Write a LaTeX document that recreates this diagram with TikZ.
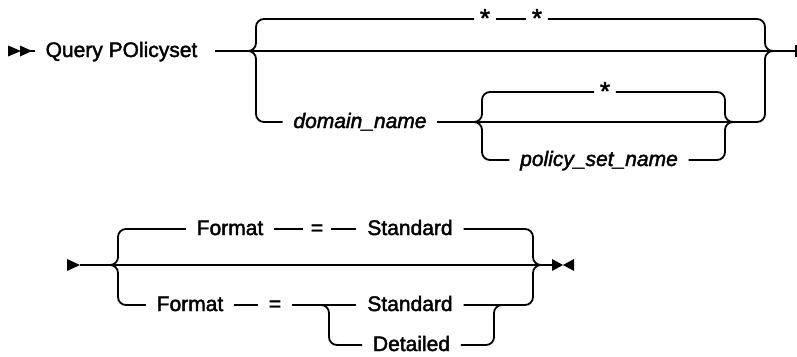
\documentclass[tikz,border=0pt]{standalone}
\usepackage{fontspec}
\setmainfont{Liberation Sans}
\newfontfamily\rrfont[FakeBold=2]{Liberation Sans}
\begin{document}
\begin{tikzpicture}[x=1pt,y=-1pt, line width=1.8pt,
  rr/.style={rounded corners=8pt},
  lbl/.style={inner xsep=10pt, inner ysep=0pt, text height=14pt, text depth=2pt, font=\rrfont\fontsize{21}{24}\selectfont},
  var/.style={lbl, font=\rrfont\fontsize{21}{24}\selectfont\itshape},
  ast/.style={lbl, inner xsep=7pt},
  star/.style={ast, inner xsep=5pt, font=\rrfont\fontsize{26}{28}\selectfont}]
\useasboundingbox (0,0) rectangle (797,356);

% ---------- row 1 ----------
\fill (8,45.5) -- (8,56.5) -- (21,51) -- cycle;
\fill (20,45.5) -- (20,56.5) -- (32,51) -- cycle;
\coordinate (a1) at (21,51);
\coordinate (st1) at (35,51);
\node[lbl] (q) at (121.5,51) {Query POlicyset};
\coordinate (T1) at (248,51); \coordinate (V1) at (256,51);
\coordinate (V2) at (765,51); \coordinate (T2) at (773,51);
\coordinate (E1) at (796,51);
\node[star] (s1) at (485,21) {*};
\node[star] (s2) at (537,21) {*};
\node[var] (dn) at (360,122) {domain\_name};
\coordinate (T5) at (474,122); \coordinate (V5) at (482,122);
\coordinate (V6) at (725,122); \coordinate (T6) at (733,122);
\node[star] (s3) at (605,94) {*};
\node[var] (psn) at (599,160) {policy\_set\_name};

\draw (a1) -- (st1);
\draw ([xshift=7pt]q.east) -- (E1);
\draw ([yshift=-6pt]E1) -- ([yshift=6pt]E1);
\draw[rr] (T1) -- (V1) |- ([yshift=2pt]s1.west);
\draw ([yshift=2pt]s1.east) -- ([yshift=2pt]s2.west);
\draw[rr] ([yshift=2pt]s2.east) -| (V2) -- (T2);
\draw[rr] (T1) -- (V1) |- (dn.west);
\draw (dn.east) -- (T5) -- (T6);
\draw[rr] (T5) -- (V5) |- ([yshift=2pt]s3.west);
\draw[rr] (T5) -- (V5) |- (psn.west);
\draw[rr] ([yshift=2pt]s3.east) -| (V6) -- (T6);
\draw[rr] (psn.east) -| (V6) -- (T6);
\draw[rr] (T6) -| (V2) -- (T2);

% ---------- row 2 ----------
\fill (67,259) -- (67,271) -- (80,265) -- cycle;
\coordinate (a2) at (80,265);
\coordinate (T3) at (110,265); \coordinate (V3) at (118,265);
\node[lbl] (f1) at (230,229) {Format};
\node[ast] (e1) at (317,229) {=};
\node[lbl] (sd1) at (410,229) {Standard};
\node[lbl] (f2) at (190,305) {Format};
\node[lbl] (e2) at (275,305) {=};
\node[lbl] (sd2) at (410,305) {Standard};
\node[lbl] (dt) at (411.5,345) {Detailed};
\coordinate (J1) at (329,305);
\coordinate (J2) at (494,305);
\coordinate (J2e) at (502,305);
\coordinate (V4) at (533,265); \coordinate (T4) at (541,265);
\coordinate (E2) at (553,265);
\fill (552,259) -- (552,271) -- (563,265) -- cycle;
\fill (574,259) -- (574,271) -- (563,265) -- cycle;

\draw (a2) -- (T3) -- (T4) -- (E2);
\draw[rr] (T3) -- (V3) |- (f1.west);
\draw (f1.east) -- (e1.west);
\draw (e1.east) -- (sd1.west);
\draw[rr] (sd1.east) -| (V4) -- (T4);
\draw[rr] (T3) -- (V3) |- (f2.west);
\draw (f2.east) -- (e2.west);
\draw (e2.east) -- (sd2.west);
\draw[rr] (e2.east) -- (J1) |- (dt.west);
\draw[rr] (dt.east) -| (J2) -- (J2e);
\draw[rr] (sd2.east) -| (V4) -- (T4);
\end{tikzpicture}
\end{document}
